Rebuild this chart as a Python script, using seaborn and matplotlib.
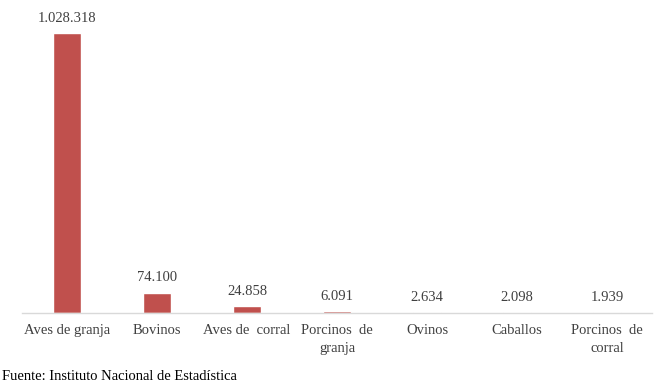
import matplotlib
matplotlib.use("Agg")
import matplotlib.pyplot as plt
import seaborn as sns
import pandas as pd

categorias = ["Aves de granja", "Bovinos", "Aves de  corral", "Porcinos  de\ngranja",
              "Ovinos", "Caballos", "Porcinos  de\ncorral"]
valores = [1028318, 74100, 24858, 6091, 2634, 2098, 1939]
etiquetas = ["1.028.318", "74.100", "24.858", "6.091", "2.634", "2.098", "1.939"]

df = pd.DataFrame({"categoria": categorias, "valor": valores})

sns.set_theme(style="white")
plt.rcParams["font.family"] = ["Liberation Serif", "DejaVu Serif"]

fig = plt.figure(figsize=(6.72, 3.89), dpi=100)
# axes: x 22..652 px, baseline at y=313 px, top at y=10 px
ax = fig.add_axes([22 / 672, (389 - 313) / 389, 630 / 672, 303 / 389])
sns.barplot(data=df, x="categoria", y="valor", color="#C0504D", width=0.31,
            saturation=1, ax=ax)

ax.set_ylim(0, 1028318 * 303 / 280)
ax.set_xlim(-0.5, len(categorias) - 0.5)
for s in ["top", "right", "left"]:
    ax.spines[s].set_visible(False)
ax.spines["bottom"].set_color("#D9D9D9")
ax.spines["bottom"].set_linewidth(1)
ax.set_yticks([])
ax.set_xlabel("")
ax.set_ylabel("")
ax.tick_params(axis="x", length=0, pad=8, labelsize=10.5, colors="#404040")
ax.set_xticks(range(len(categorias)))
ax.set_xticklabels(categorias, linespacing=1.45)

for i, (v, t) in enumerate(zip(valores, etiquetas)):
    ax.annotate(t, (i, v), xytext=(0, 6), textcoords="offset points",
                ha="center", va="bottom", fontsize=10.5, color="#404040")

fig.text(2 / 672, 1 - 376 / 389, "Fuente: Instituto Nacional de Estadística",
         ha="left", va="center", fontsize=10.5, color="black")

fig.savefig("out.png", dpi=100)
